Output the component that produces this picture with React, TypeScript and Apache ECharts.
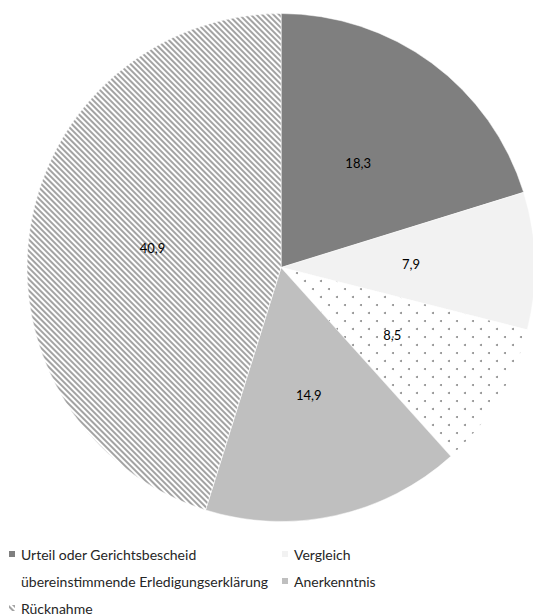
import React, { useEffect, useRef } from "react";
import * as echarts from "echarts";

const categories = [
  "Urteil oder Gerichtsbescheid",
  "Vergleich",
  "übereinstimmende Erledigungserklärung",
  "Anerkenntnis",
  "Rücknahme",
];
const values = [18.3, 7.9, 8.5, 14.9, 40.9];

const FONT = "Lato, 'Open Sans', sans-serif";

export default function App() {
  const ref = useRef<HTMLDivElement>(null);
  useEffect(() => {
    document.body.style.margin = "0";
    const chart = echarts.init(ref.current!, null, { renderer: "svg" });
    const styles: any[] = [
      { color: "#7f7f7f" },
      { color: "#f2f2f2" },
      {
        color: "#ffffff",
        decal: {
          symbol: "circle",
          symbolSize: 1,
          color: "#8c8c8c",
          backgroundColor: "#ffffff",
          dashArrayX: [
            [2, 13.3],
            [0, 7.65, 2, 5.65],
          ],
          dashArrayY: [2, 5.7],
          rotation: 0,
        },
      },
      { color: "#bfbfbf" },
      {
        color: "#ffffff",
        decal: {
          symbol: "rect",
          symbolSize: 1,
          color: "#a3a3a3",
          backgroundColor: "#ffffff",
          dashArrayX: [1, 0],
          dashArrayY: [1.7, 1.9],
          rotation: Math.PI / 4,
        },
      },
    ];
    const data = categories.map((name, i) => ({
      name,
      value: values[i],
      itemStyle: { ...styles[i], borderColor: "#ffffff", borderWidth: 0.5 },
    }));
    const legendText = { fontFamily: FONT, fontSize: 14, color: "#262626" };
    chart.setOption({
      animation: false,
      textStyle: { fontFamily: FONT },
      legend: [
        {
          orient: "vertical",
          left: 7,
          top: 547,
          padding: 0,
          itemWidth: 8,
          itemHeight: 8,
          itemGap: 13,
          icon: "rect",
          textStyle: legendText,
          data: [categories[0], categories[2], categories[4]],
          selectedMode: false,
        },
        {
          orient: "vertical",
          left: 280,
          top: 547,
          padding: 0,
          itemWidth: 8,
          itemHeight: 8,
          itemGap: 13,
          icon: "rect",
          textStyle: legendText,
          data: [categories[1], categories[3]],
          selectedMode: false,
        },
      ],
      series: [
        {
          type: "pie",
          center: [281, 267.5],
          radius: 254,
          startAngle: 90,
          clockwise: true,
          label: {
            show: true,
            position: "inside",
            fontFamily: FONT,
            fontSize: 13,
            color: "#000",
            formatter: (p: any) => String(p.value.toFixed(1)).replace(".", ","),
          },
          labelLine: { show: false },
          emphasis: { disabled: true },
          data,
        },
      ],
    });
    return () => chart.dispose();
  }, []);
  return (
    <div
      ref={ref}
      style={{ position: "absolute", left: 0, top: 0, width: 533, height: 660, background: "#fff" }}
    />
  );
}
